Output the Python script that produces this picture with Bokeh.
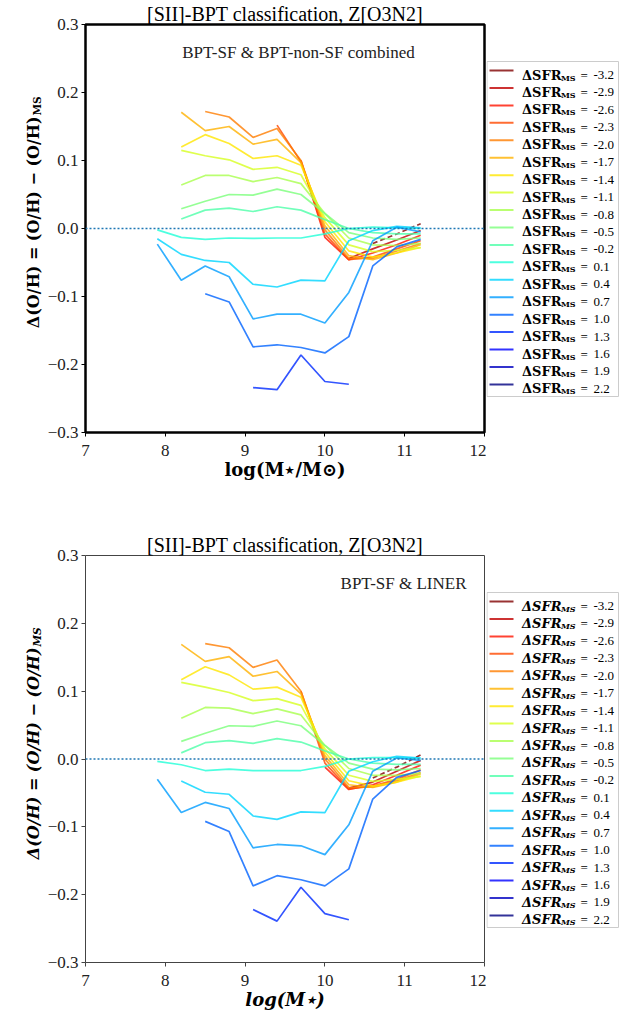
import numpy as np
from bokeh.plotting import figure
from bokeh.models import Span, Label, FixedTicker, Range1d, CustomJSTickFormatter
from bokeh.layouts import column, row
from bokeh.core.properties import value
from bokeh.embed import file_html
from bokeh.resources import INLINE

NaN = float("nan")

# ---------------- data ----------------
log_mass = [7.9, 8.2, 8.5, 8.8, 9.1, 9.4, 9.7, 10.0, 10.3, 10.6, 10.9, 11.2]
dsfr_levels = [-3.2, -2.9, -2.6, -2.3, -2.0, -1.7, -1.4, -1.1, -0.8, -0.5,
               -0.2, 0.1, 0.4, 0.7, 1.0, 1.3, 1.6, 1.9, 2.2]
dsfr_labels = ["-3.2", "-2.9", "-2.6", "-2.3", "-2.0", "-1.7", "-1.4", "-1.1", "-0.8", "-0.5",
               "-0.2", "0.1", "0.4", "0.7", "1.0", "1.3", "1.6", "1.9", "2.2"]

# top panel: BPT-SF & BPT-non-SF combined
top_m32 = [NaN, NaN, NaN, NaN, NaN, NaN, NaN, NaN, NaN, -0.022, -0.008, 0.007]
top_m29 = [NaN, NaN, NaN, NaN, NaN, NaN, NaN, NaN, -0.044, -0.030, -0.017, -0.003]
top_m26 = [NaN, NaN, NaN, NaN, NaN, NaN, 0.100, -0.013, -0.046, -0.036, -0.024, -0.010]
top_m23 = [NaN, NaN, NaN, NaN, NaN, 0.152, 0.098, -0.008, -0.046, -0.042, -0.030, -0.018]
top_m20 = [NaN, NaN, 0.172, 0.164, 0.134, 0.147, 0.100, -0.002, -0.044, -0.044, -0.033, -0.022]
top_m17 = [NaN, 0.171, 0.144, 0.150, 0.124, 0.131, 0.097, 0.004, -0.040, -0.046, -0.036, -0.024]
top_m14 = [NaN, 0.120, 0.138, 0.125, 0.103, 0.107, 0.093, 0.010, -0.033, -0.042, -0.036, -0.028]
top_m11 = [NaN, 0.115, 0.107, 0.101, 0.087, 0.090, 0.079, 0.016, -0.024, -0.034, -0.032, -0.028]
top_m08 = [NaN, 0.064, 0.078, 0.078, 0.069, 0.075, 0.066, 0.022, -0.014, -0.024, -0.025, -0.022]
top_m05 = [NaN, 0.029, 0.040, 0.050, 0.049, 0.058, 0.050, 0.022, -0.006, -0.014, -0.016, -0.014]
top_m02 = [NaN, 0.014, 0.027, 0.030, 0.025, 0.032, 0.027, 0.013, 0.000, -0.006, -0.008, -0.008]
top_p01 = [-0.002, -0.013, -0.016, -0.014, -0.0145, -0.014, -0.014, -0.008, 0.000, 0.002, 0.001, 0.000]
top_p04 = [-0.015, -0.038, -0.047, -0.050, -0.082, -0.086, -0.076, -0.077, -0.018, -0.003, 0.003, 0.001]
top_p07 = [-0.023, -0.076, -0.055, -0.071, -0.133, -0.126, -0.126, -0.139, -0.094, -0.018, 0.002, -0.005]
top_p10 = [NaN, NaN, -0.096, -0.108, -0.174, -0.171, -0.175, -0.183, -0.159, -0.055, -0.027, -0.016]
top_p13 = [NaN, NaN, NaN, NaN, -0.234, -0.237, -0.186, -0.225, -0.229, NaN, NaN, NaN]
top_p16 = [NaN] * 12
top_p19 = [NaN] * 12
top_p22 = [NaN] * 12

# bottom panel: BPT-SF & LINER
bot_m32 = [NaN, NaN, NaN, NaN, NaN, NaN, NaN, NaN, NaN, -0.028, -0.012, 0.006]
bot_m29 = [NaN, NaN, NaN, NaN, NaN, NaN, NaN, NaN, -0.043, -0.034, -0.018, -0.002]
bot_m26 = [NaN, NaN, NaN, NaN, NaN, NaN, NaN, -0.012, -0.045, -0.038, -0.024, -0.009]
bot_m23 = [NaN, NaN, NaN, NaN, NaN, NaN, 0.100, -0.006, -0.044, -0.040, -0.030, -0.016]
bot_m20 = [NaN, NaN, 0.170, 0.164, 0.135, 0.146, 0.100, 0.000, -0.042, -0.041, -0.032, -0.020]
bot_m17 = [NaN, 0.169, 0.144, 0.151, 0.122, 0.129, 0.096, 0.005, -0.038, -0.042, -0.034, -0.022]
bot_m14 = [NaN, 0.117, 0.136, 0.124, 0.103, 0.106, 0.091, 0.010, -0.032, -0.040, -0.034, -0.025]
bot_m11 = [NaN, 0.113, 0.106, 0.098, 0.086, 0.089, 0.079, 0.015, -0.024, -0.033, -0.030, -0.026]
bot_m08 = [NaN, 0.060, 0.076, 0.075, 0.067, 0.074, 0.065, 0.020, -0.014, -0.024, -0.024, -0.021]
bot_m05 = [NaN, 0.026, 0.038, 0.049, 0.048, 0.056, 0.049, 0.020, -0.006, -0.015, -0.016, -0.014]
bot_m02 = [NaN, 0.009, 0.024, 0.027, 0.023, 0.030, 0.025, 0.012, 0.000, -0.006, -0.008, -0.008]
bot_p01 = [-0.0035, -0.0085, -0.017, -0.015, -0.017, -0.017, -0.017, -0.011, 0.000, 0.002, 0.002, 0.001]
bot_p04 = [NaN, -0.0325, -0.049, -0.052, -0.084, -0.089, -0.078, -0.079, -0.018, -0.004, 0.004, 0.0015]
bot_p07 = [-0.030, -0.079, -0.064, -0.073, -0.131, -0.126, -0.128, -0.141, -0.097, -0.018, 0.0015, -0.002]
bot_p10 = [NaN, NaN, -0.092, -0.107, -0.187, -0.172, -0.178, -0.187, -0.162, -0.059, -0.027, -0.017]
bot_p13 = [NaN, NaN, NaN, NaN, -0.222, -0.239, -0.189, -0.228, -0.237, NaN, NaN, NaN]
bot_p16 = [NaN] * 12
bot_p19 = [NaN] * 12
bot_p22 = [NaN] * 12

top_values = [top_m32, top_m29, top_m26, top_m23, top_m20, top_m17, top_m14, top_m11, top_m08,
              top_m05, top_m02, top_p01, top_p04, top_p07, top_p10, top_p13, top_p16, top_p19, top_p22]
bot_values = [bot_m32, bot_m29, bot_m26, bot_m23, bot_m20, bot_m17, bot_m14, bot_m11, bot_m08,
              bot_m05, bot_m02, bot_p01, bot_p04, bot_p07, bot_p10, bot_p13, bot_p16, bot_p19, bot_p22]

x_ticks = [7, 8, 9, 10, 11, 12]
y_ticks = [-0.3, -0.2, -0.1, 0.0, 0.1, 0.2, 0.3]


# ---------------- style ----------------
def jet(t):
    r = np.interp(t, [0, 0.35, 0.66, 0.89, 1], [0, 0, 1, 1, 0.5])
    g = np.interp(t, [0, 0.125, 0.375, 0.64, 0.91, 1], [0, 0, 1, 1, 0, 0])
    b = np.interp(t, [0, 0.11, 0.34, 0.65, 1], [0.5, 1, 1, 0, 0])
    return "#%02x%02x%02x" % (int(round(r * 255)), int(round(g * 255)), int(round(b * 255)))


n_lev = len(dsfr_levels)
colors = [jet(1 - i / (n_lev - 1)) for i in range(n_lev)]
ALPHA = 0.8
SERIF = "Liberation Serif"
BOLD_SERIF = "DejaVu Serif"

W_YLAB = 44
W_MAIN = 442
W_LEG = 641 - W_YLAB - W_MAIN


def blank_fig(width, height, yr):
    # side figure; its frame is aligned with the main frame by the row layout,
    # so its y range is expressed in panel pixels of that frame
    f = figure(width=width, height=height, x_range=Range1d(0, width), y_range=yr,
               output_backend="svg", toolbar_location=None, title=None,
               x_axis_location=None, y_axis_location=None,
               min_border=0, min_border_left=0, min_border_right=0,
               min_border_top=0, min_border_bottom=0)
    f.xgrid.visible = False
    f.ygrid.visible = False
    f.outline_line_color = None
    f.background_fill_color = "white"
    f.border_fill_color = "white"
    return f


def make_panel(values, title, note, note_x, note_align, italic, frame_top, height, frame_h,
               spine_w, spine_c, xlabel, ylab_junction, leg_top):
    fs = "bold italic" if italic else "bold"

    # ----- main plot -----
    p = figure(width=W_MAIN, height=height, x_range=Range1d(7, 12), y_range=Range1d(-0.3, 0.3),
               output_backend="svg", toolbar_location=None, title=title,
               min_border_left=85 - W_YLAB, min_border_right=2, min_border_top=frame_top,
               min_border_bottom=height - frame_top - frame_h)
    p.title.align = "center"
    p.title.text_font = SERIF
    p.title.text_font_size = "20px"
    p.title.text_font_style = "normal"
    p.title.text_color = "black"
    p.title.standoff = 0
    p.xgrid.visible = False
    p.ygrid.visible = False
    p.outline_line_color = spine_c
    p.outline_line_width = spine_w
    p.background_fill_color = "white"
    p.border_fill_color = "white"

    for ax in (p.xaxis[0], p.yaxis[0]):
        ax.axis_line_color = None
        ax.major_tick_in = 0
        ax.major_tick_out = 4
        ax.major_tick_line_color = spine_c
        ax.major_tick_line_width = 1
        ax.minor_tick_line_color = None
        ax.major_label_text_font = SERIF
        ax.major_label_text_font_size = "17px"
        ax.major_label_text_color = "#222222"
    p.xaxis.ticker = FixedTicker(ticks=x_ticks)
    p.yaxis.ticker = FixedTicker(ticks=y_ticks)
    p.yaxis.formatter = CustomJSTickFormatter(code="return tick.toFixed(1).replace('-', '\u2212');")
    p.xaxis.major_label_standoff = 8
    p.yaxis.major_label_standoff = 3

    p.xaxis.axis_label = xlabel
    p.xaxis.axis_label_text_font = BOLD_SERIF
    p.xaxis.axis_label_text_font_style = fs
    p.xaxis.axis_label_text_font_size = "18px"
    p.xaxis.axis_label_text_color = "black"
    p.xaxis.axis_label_standoff = 0

    p.add_layout(Span(location=0, dimension="width", line_color="#1f77b4",
                      line_dash="2 2", line_width=1.5))

    for vals, c, lev in zip(values, colors, dsfr_levels):
        dash = "5 3" if lev == dsfr_levels[0] else "solid"
        p.line(log_mass, vals, line_color=c, line_width=1.7, line_alpha=ALPHA, line_dash=dash)

    p.add_layout(Label(x=note_x, y=frame_h - 28, x_units="screen", y_units="screen", text=note,
                       text_font=SERIF, text_font_size="17px", text_align=note_align,
                       text_baseline="middle", text_color="#222222"))

    # ----- y axis label (own narrow figure, so subscripts are possible) -----
    # y measured upward from the panel bottom
    fy = blank_fig(W_YLAB, height, Range1d(height - frame_top - frame_h, height - frame_top))
    jy = height - ylab_junction
    fy.text(x=[33], y=[jy], text=["\u0394(O/H) = (O/H) \u2212 (O/H)"], angle=np.pi / 2,
            text_font=value(BOLD_SERIF), text_font_style=fs, text_font_size=value("16px"),
            text_align="right", text_baseline="alphabetic", text_color="black")
    fy.text(x=[36], y=[jy + 1], text=["MS"], angle=np.pi / 2,
            text_font=value(BOLD_SERIF), text_font_style=fs, text_font_size=value("10.5px"),
            text_align="left", text_baseline="alphabetic", text_color="black")

    # ----- legend (own figure, so subscripts are possible) -----
    # y measured downward from the panel top
    fl = blank_fig(W_LEG, height, Range1d(frame_top + frame_h, frame_top))
    pitch = 17.44
    n = len(dsfr_labels)
    fl.quad(left=[0.5], right=[132], top=[leg_top], bottom=[leg_top + 335],
            fill_color="white", line_color="#cccccc", line_width=1)
    rows_y = [leg_top + 9 + pitch * i for i in range(n)]
    fl.segment(x0=[3] * n, x1=[27] * n, y0=rows_y, y1=rows_y, line_color=colors,
               line_width=2, line_alpha=ALPHA)
    base_y = [y + 4.5 for y in rows_y]
    sub_y = [y + 7 for y in rows_y]
    fl.text(x=[35.5] * n, y=base_y, text=["\u0394SFR"] * n, text_font=value(BOLD_SERIF),
            text_font_style=fs, text_font_size=value("13px"), text_baseline="alphabetic",
            text_color="black")
    fl.text(x=[74.5] * n, y=sub_y, text=["MS"] * n, text_font=value(BOLD_SERIF),
            text_font_style=fs, text_font_size=value("8px"), text_baseline="alphabetic",
            text_color="black")
    fl.text(x=[94] * n, y=base_y, text=["="] * n, text_font=value(SERIF),
            text_font_size=value("13px"), text_baseline="alphabetic", text_color="black")
    fl.text(x=[107] * n, y=base_y, text=dsfr_labels, text_font=value(SERIF),
            text_font_size=value("13px"), text_baseline="alphabetic", text_color="black")

    return row(fy, p, fl, spacing=0)


panel1 = make_panel(top_values, "[SII]-BPT classification, Z[O3N2]", "BPT-SF & BPT-non-SF combined",
                    213, "center", False, 24, 508, 408, 2.5, "black", "log(M\u22c6/M\u2299)",
                    116, 61)
panel2 = make_panel(bot_values, "[SII]-BPT classification, Z[O3N2]", "BPT-SF & LINER",
                    381, "right", True, 47, 510, 407, 1, "#444444", "log(M\u22c6)",
                    647 - 508, 592 - 508)

layout = column(panel1, panel2, spacing=0)
open("out.html", "w").write(file_html(layout, INLINE))
